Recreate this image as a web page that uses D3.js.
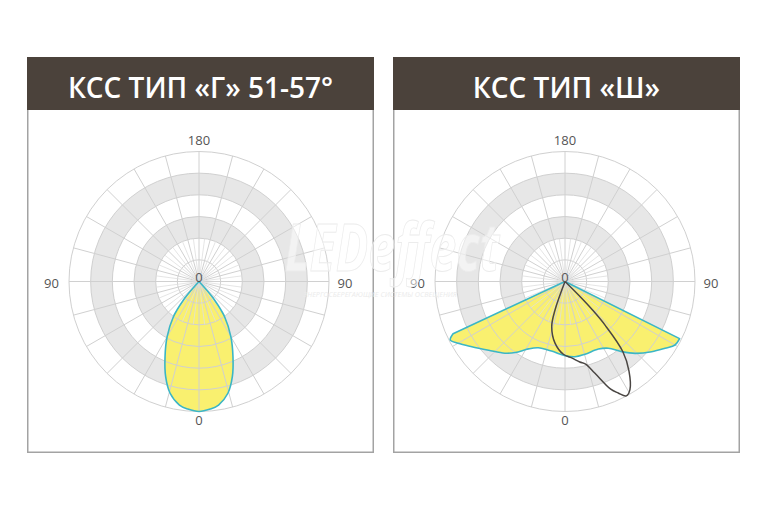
<!DOCTYPE html>
<html>
<head>
<meta charset="utf-8">
<script src="https://cdn.jsdelivr.net/npm/d3@7"></script>
<style>
  html, body { margin: 0; padding: 0; background: #fff; }
  svg { display: block; }
</style>
</head>
<body>
<svg id="chart" width="768" height="512"></svg>
<script>
// ---------- DATA ----------
const titles = ["КСС ТИП «Г» 51-57°", "КСС ТИП «Ш»"];
const tickTop = "180";
const tickSide = "90";
const tickBottom = "0";
const tickCenter = "0";

// Left chart (type «Г»): angle (deg, 0 = down, + = right), relative intensity
const gAngles = [-43, -42, -40, -36, -30, -24.3, -19.3, -14.5, -9, -5, 0, 5, 9, 14.5, 19.3, 24.3, 30, 36, 40, 42, 43];
const gValues = [0, 0.08, 0.19, 0.335, 0.49, 0.635, 0.776, 0.888, 0.962, 0.985, 1.0, 0.985, 0.962, 0.888, 0.776, 0.635, 0.49, 0.335, 0.19, 0.08, 0];

// Right chart (type «Ш»): wide curve (filled)
const shAngles = [-65, -63, -60, -55, -48, -40, -35, -28.5, -22, -11, 0, 7.6, 15.4, 26.3, 33, 39, 44.3, 51, 56.3, 60, 63.5];
const shValues = [0.95, 0.99, 0.95, 0.875, 0.79, 0.72, 0.667, 0.59, 0.55, 0.545, 0.57, 0.584, 0.58, 0.58, 0.612, 0.694, 0.772, 0.858, 0.925, 0.977, 0.985];

// Right chart: second plane (dark line)
const shLineAngles = [-19.5, -19.3, -16.4, -9.2, -1.3, 5, 10.4, 14, 18, 23, 25.5, 28.2, 31, 35.6, 39.5, 42.5, 44, 45, 45.5];
const shLineValues = [0, 0.232, 0.362, 0.48, 0.56, 0.59, 0.63, 0.655, 0.74, 0.9, 0.95, 0.998, 0.97, 0.845, 0.7, 0.46, 0.3, 0.15, 0];

// ---------- DRAWING ----------
const svg = d3.select("#chart");
const R = 130;
const panels = [
  { x: 27, cx: 199, cy: 281.5 },
  { x: 393, cx: 565, cy: 281.5 }
];
const panelW = 347, panelY = 57, panelH = 396, headerH = 53;

const rScale = d3.scaleLinear().domain([0, 1]).range([0, R]);
const aScale = d3.scaleLinear().domain([0, 180]).range([Math.PI, 0]); // 0 = down

const radial = d3.lineRadial()
  .angle(d => aScale(d[0]))
  .radius(d => rScale(d[1]))
  .curve(d3.curveCatmullRom.alpha(0.5));

const font = "'Open Sans', 'Noto Sans', sans-serif";

function drawPanel(p, i) {
  const g = svg.append("g");
  g.append("rect").attr("x", p.x + 0.75).attr("y", panelY + 0.75)
    .attr("width", panelW - 1.5).attr("height", panelH - 1.5)
    .attr("fill", "#fff").attr("stroke", "#a3a3a3").attr("stroke-width", 1.5);
  g.append("rect").attr("x", p.x).attr("y", panelY)
    .attr("width", panelW).attr("height", headerH).attr("fill", "#4b423b");
  g.append("text").attr("x", p.x + panelW / 2).attr("y", panelY + 41)
    .attr("text-anchor", "middle").attr("fill", "#fff")
    .attr("font-family", font).attr("font-weight", 600).attr("font-size", 28)
    .text(titles[i]);

  const c = g.append("g").attr("transform", `translate(${p.cx},${p.cy})`);
  c.append("circle").attr("r", R).attr("fill", "#fff");
  const arc = d3.arc();
  [[2, 3], [4, 5]].forEach(([a, b]) => {
    c.append("path").attr("d", arc({ innerRadius: R * a / 6, outerRadius: R * b / 6, startAngle: 0, endAngle: 2 * Math.PI }))
      .attr("fill", "#e7e7e7");
  });
  return c;
}

function drawGrid(c) {
  const rings = d3.range(1, 7).map(k => R * k / 6);
  const grid = c.append("g").attr("fill", "none").attr("stroke", "#d0d0d0").attr("stroke-width", 1);
  rings.forEach(r => grid.append("circle").attr("r", r));
  d3.range(0, 360, 15).forEach(a => {
    const t = aScale(a);
    grid.append("line").attr("x1", 0).attr("y1", 0)
      .attr("x2", R * Math.sin(t)).attr("y2", -R * Math.cos(t));
  });
  const minor = c.append("g").attr("stroke", "#dedede").attr("stroke-width", 0.8);
  d3.range(0, 360, 7.5).filter(a => a % 15 !== 0).forEach(a => {
    const t = aScale(a);
    minor.append("line").attr("x1", 0).attr("y1", 0)
      .attr("x2", R / 3 * Math.sin(t)).attr("y2", -R / 3 * Math.cos(t));
  });
}

function drawLabels(c) {
  const lab = c.append("g").attr("font-family", font).attr("font-size", 13)
    .attr("fill", "#555").attr("text-anchor", "middle");
  lab.append("text").attr("x", 0).attr("y", -136.5).text(tickTop);
  lab.append("text").attr("x", 0).attr("y", 143.5).text(tickBottom);
  lab.append("text").attr("x", -147.5).attr("y", 6.5).text(tickSide);
  lab.append("text").attr("x", 146).attr("y", 6.5).text(tickSide);
  lab.append("text").attr("x", 0).attr("y", 0.5).text(tickCenter);
}

// Left panel
const c1 = drawPanel(panels[0], 0);
const gPts = gAngles.map((a, i) => [a, gValues[i]]);
c1.append("path").attr("d", radial(gPts) + "Z").attr("fill", "#f9f06f").attr("stroke", "none");
drawGrid(c1);
c1.append("path").attr("d", radial(gPts) + "Z").attr("fill", "none")
  .attr("stroke", "#3bb6c6").attr("stroke-width", 1.6);
drawLabels(c1);

// Right panel
const c2 = drawPanel(panels[1], 1);
const shPts = shAngles.map((a, i) => [a, shValues[i]]);
const shPath = "M0,0L" + radial(shPts).slice(1) + "Z";
c2.append("path").attr("d", shPath).attr("fill", "#f9f06f").attr("stroke", "none");
drawGrid(c2);
c2.append("path").attr("d", shPath).attr("fill", "none")
  .attr("stroke", "#3bb6c6").attr("stroke-width", 1.6).attr("stroke-linejoin", "round");
const lnPts = shLineAngles.map((a, i) => [a, shLineValues[i]]);
c2.append("path").attr("d", radial(lnPts)).attr("fill", "none")
  .attr("stroke", "#4a4643").attr("stroke-width", 1.5);
drawLabels(c2);

// Watermark (faint), narrow letters via horizontal scaling
const wm = svg.append("g").attr("font-family", font).attr("font-style", "italic");
wm.append("text").attr("transform", "translate(392,271) scale(0.73,1)")
  .attr("text-anchor", "middle")
  .attr("font-size", 66).attr("font-weight", 700)
  .attr("fill", "#ffffff").attr("fill-opacity", 0.5)
  .attr("stroke", "#ececec").attr("stroke-width", 0.9)
  .text("LEDeffect");
wm.append("text").attr("transform", "translate(380,297) scale(0.9,1)")
  .attr("text-anchor", "middle")
  .attr("font-size", 8).attr("fill", "#ebebeb")
  .text("ЭНЕРГОСБЕРЕГАЮЩИЕ СИСТЕМЫ ОСВЕЩЕНИЯ");
</script>
</body>
</html>
